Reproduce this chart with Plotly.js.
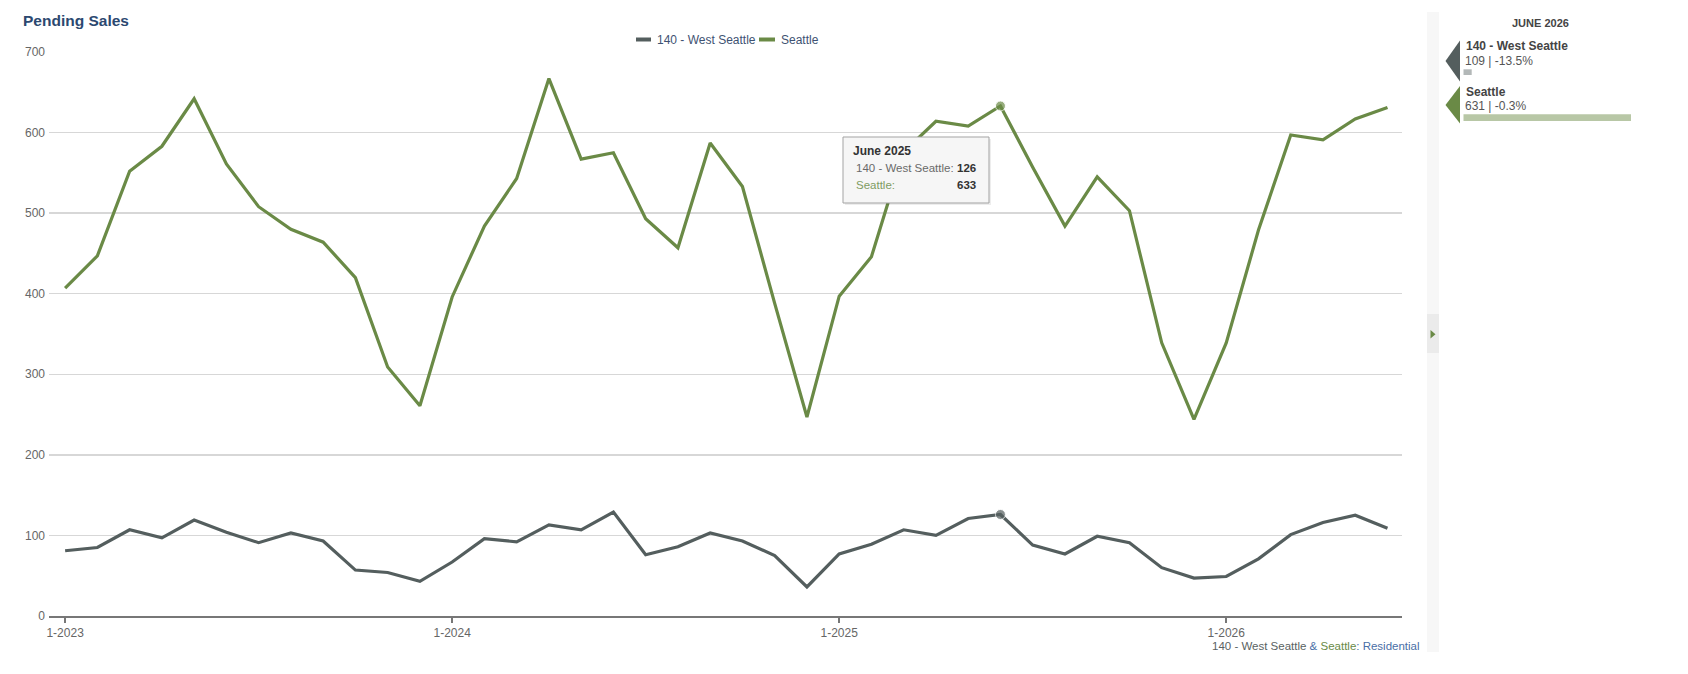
<!DOCTYPE html>
<html>
<head>
<meta charset="utf-8">
<script src="https://cdn.plot.ly/plotly-3.0.1.min.js"></script>
<style>
  html, body { margin: 0; padding: 0; background: #ffffff; }
  #chart { width: 1688px; height: 674px; }
</style>
</head>
<body>
<div id="chart"></div>
<script>
// ---------- DATA ----------
const months = [
  '1-2023','2-2023','3-2023','4-2023','5-2023','6-2023','7-2023','8-2023','9-2023','10-2023','11-2023','12-2023',
  '1-2024','2-2024','3-2024','4-2024','5-2024','6-2024','7-2024','8-2024','9-2024','10-2024','11-2024','12-2024',
  '1-2025','2-2025','3-2025','4-2025','5-2025','6-2025','7-2025','8-2025','9-2025','10-2025','11-2025','12-2025',
  '1-2026','2-2026','3-2026','4-2026','5-2026','6-2026'
];
const westSeattle = [81,85,107,97,119,104,91,103,93,57,54,43,
                     67,96,92,113,107,129,76,86,103,93,75,36,
                     77,89,107,100,121,126,88,77,99,91,60,47,
                     49,71,101,116,125,109];
const seattle = [407,447,552,583,642,561,508,480,464,420,309,261,
                 396,484,543,667,567,575,493,457,587,533,388,247,
                 397,446,576,614,608,633,557,484,545,503,339,244,
                 339,479,597,591,617,631];
const seriesNames = ['140 - West Seattle', 'Seattle'];
const xTickLabels = ['1-2023','1-2024','1-2025','1-2026'];
const yTickValues = [0,100,200,300,400,500,600,700];
const monthNames = ['January','February','March','April','May','June','July','August','September','October','November','December'];
const highlightIndex = 29;   // June 2025 (tooltip)
const latestIndex = months.length - 1; // June 2026 (sidebar)

// ---------- STYLE ----------
const C_WS = '#545e5e';
const C_SEA = '#6a8a46';
const FONT = 'Liberation Sans, Arial, Helvetica, sans-serif';

// pixel -> paper helpers (plot area in page pixels)
const L = 49, R = 1402, T = 52, B = 616;
const px = x => (x - L) / (R - L);
const py = y => (B - y) / (B - T);

function monthText(lbl, upper) {
  const [m, y] = lbl.split('-');
  const s = monthNames[parseInt(m, 10) - 1] + ' ' + y;
  return upper ? s.toUpperCase() : s;
}
function pct(cur, prev) {
  const p = (cur - prev) / prev * 100;
  return (p > 0 ? '+' : '') + p.toFixed(1) + '%';
}

const markerSizes = months.map((_, i) => i === highlightIndex ? 10 : 0);

const traces = [
  {
    x: months, y: westSeattle, name: seriesNames[0], type: 'scatter', mode: 'lines+markers',
    line: { color: C_WS, width: 3.2 },
    marker: { size: markerSizes, color: C_WS },
    showlegend: false, hoverinfo: 'skip'
  },
  {
    x: months, y: seattle, name: seriesNames[1], type: 'scatter', mode: 'lines+markers',
    line: { color: C_SEA, width: 3.2 },
    marker: { size: markerSizes, color: C_SEA },
    showlegend: false, hoverinfo: 'skip'
  }
];

const shapes = [];
const annotations = [];

function rectPx(x0, y0, x1, y1, fill, line) {
  shapes.push({ type: 'rect', xref: 'paper', yref: 'paper',
    x0: px(x0), x1: px(x1), y0: py(y1), y1: py(y0),
    fillcolor: fill, line: line || { width: 0 }, layer: 'above' });
}
function linePx(x0, y0, x1, y1, color, w) {
  shapes.push({ type: 'line', xref: 'paper', yref: 'paper',
    x0: px(x0), x1: px(x1), y0: py(y0), y1: py(y1),
    line: { color: color, width: w }, layer: 'above' });
}
function pathPx(pts, fill) {
  const d = pts.map((p, i) => (i ? 'L' : 'M') + px(p[0]).toFixed(5) + ',' + py(p[1]).toFixed(5)).join(' ') + ' Z';
  shapes.push({ type: 'path', xref: 'paper', yref: 'paper', path: d,
    fillcolor: fill, line: { width: 0 }, layer: 'above' });
}
function textPx(x, y, text, opts) {
  opts = opts || {};
  annotations.push({ xref: 'paper', yref: 'paper', x: px(x), y: py(y), text: text,
    showarrow: false, xanchor: opts.xanchor || 'left', yanchor: 'middle',
    font: { family: FONT, size: opts.size || 12, color: opts.color || '#555' } });
}

// Title
textPx(21, 20.5, '<b>Pending Sales</b>', { size: 15.5, color: '#2c4870' });

// Legend (top centre)
linePx(636, 39.5, 651, 39.5, C_WS, 4);
textPx(655, 39.5, seriesNames[0], { size: 12, color: '#3e5272' });
linePx(759, 39.5, 775, 39.5, C_SEA, 4);
textPx(779, 39.5, seriesNames[1], { size: 12, color: '#3e5272' });

// Caption bottom right
textPx(1422, 646,
  '<span style="color:#5a6262">' + seriesNames[0] + '</span>' +
  '<span style="color:#4a6ea6"> &amp; </span>' +
  '<span style="color:' + C_SEA + '">' + seriesNames[1] + '</span>' +
  '<span style="color:#4a6ea6">: Residential</span>',
  { size: 11.5, xanchor: 'right' });

// Tooltip (June 2025)
rectPx(845, 139, 991, 205, 'rgba(0,0,0,0.07)');
rectPx(843, 137, 989, 203, '#f6f6f6', { color: '#a3a3a3', width: 1 });
textPx(851, 151, '<b>' + monthText(months[highlightIndex]) + '</b>', { size: 12, color: '#333' });
textPx(854, 167.5, seriesNames[0] + ':', { size: 11.5, color: '#6a6a6a' });
textPx(978, 167.5, '<b>' + westSeattle[highlightIndex] + '</b>', { size: 11.5, color: '#333', xanchor: 'right' });
textPx(854, 185, seriesNames[1] + ':', { size: 11.5, color: '#7f9c62' });
textPx(978, 185, '<b>' + seattle[highlightIndex] + '</b>', { size: 11.5, color: '#333', xanchor: 'right' });

// Sidebar strip with toggle
rectPx(1427, 12, 1439, 652, '#f7f7f7');
rectPx(1427, 314, 1439, 353, '#ebebeb');
pathPx([[1430.5, 330], [1435.5, 334.3], [1430.5, 338.6]], C_SEA);

// Sidebar panel
textPx(1540, 23, '<b>' + monthText(months[latestIndex], true) + '</b>', { size: 11, color: '#444', xanchor: 'center' });

pathPx([[1460, 40.5], [1445.5, 61], [1460, 81.5]], C_WS);
textPx(1463.5, 46, '<b>' + seriesNames[0] + '</b>', { size: 12, color: '#444' });
textPx(1463, 61.5, westSeattle[latestIndex] + ' | ' + pct(westSeattle[latestIndex], westSeattle[latestIndex - 12]), { size: 12, color: '#555' });
rectPx(1463.5, 69.3, 1471.7, 75, '#b3b8b8');

pathPx([[1460, 86], [1445.5, 105], [1460, 123.5]], C_SEA);
textPx(1463.5, 91.5, '<b>' + seriesNames[1] + '</b>', { size: 12, color: '#444' });
textPx(1463, 106.5, seattle[latestIndex] + ' | ' + pct(seattle[latestIndex], seattle[latestIndex - 12]), { size: 12, color: '#555' });
rectPx(1463.5, 114.3, 1631, 121, '#b8c7a6');

const layout = {
  width: 1688, height: 674,
  margin: { l: L, r: 1688 - R, t: T, b: 674 - B, pad: 0 },
  paper_bgcolor: '#ffffff', plot_bgcolor: '#ffffff',
  font: { family: FONT, size: 12, color: '#666' },
  showlegend: false,
  hovermode: false,
  xaxis: {
    type: 'category',
    range: [-0.5, 41.45],
    tickmode: 'array', tickvals: xTickLabels, ticktext: xTickLabels,
    ticks: 'outside', ticklen: 5, tickwidth: 1.5, tickcolor: '#777',
    showline: true, linecolor: '#777', linewidth: 2,
    showgrid: false, zeroline: false,
    tickfont: { family: FONT, size: 12, color: '#666' },
    fixedrange: true
  },
  yaxis: {
    range: [0, 700],
    tickmode: 'array', tickvals: yTickValues,
    showgrid: true, gridcolor: '#d7d7d7', gridwidth: 1.5,
    zeroline: false, showline: false, ticks: '',
    tickfont: { family: FONT, size: 12, color: '#666' },
    ticklabelstandoff: 3,
    fixedrange: true
  },
  shapes: shapes,
  annotations: annotations
};

Plotly.newPlot('chart', traces, layout, { displayModeBar: false, staticPlot: true });
</script>
</body>
</html>
